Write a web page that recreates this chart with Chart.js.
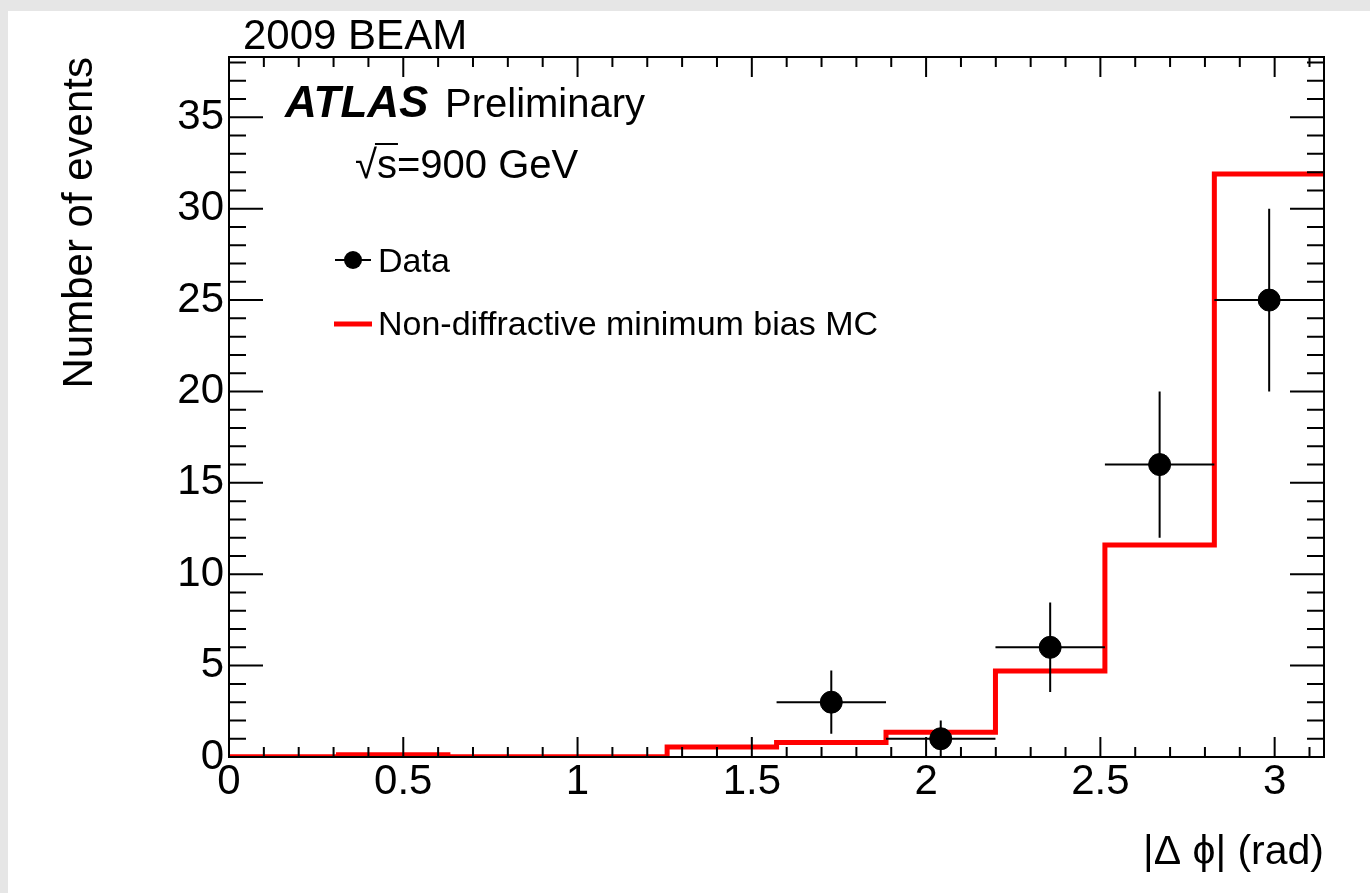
<!DOCTYPE html>
<html>
<head>
<meta charset="utf-8">
<script src="https://cdn.jsdelivr.net/npm/chart.js@4.4.1/dist/chart.umd.min.js"></script>
<style>
  html, body { margin: 0; padding: 0; background: #e6e6e6; overflow: hidden; }
  #panel { position: absolute; left: 8px; top: 11px; width: 1362px; height: 882px; background: #ffffff; }
  canvas { display: block; }
</style>
</head>
<body>
<div id="panel"><canvas id="plot" width="1362" height="882"></canvas></div>
<script>
// |delta phi| histogram, 10 bins from 0 to pi
var binEdges = [0, 0.314, 0.628, 0.942, 1.257, 1.571, 1.885, 2.199, 2.513, 2.827, 3.1416];
var mcCounts = [0.02, 0.12, 0.02, 0.02, 0.55, 0.8, 1.35, 4.7, 11.6, 31.9];
var dataCounts = [null, null, null, null, null, 3, 1, 6, 16, 25];
var dataErrors = [null, null, null, null, null, 1.73, 1, 2.45, 4, 5];

var xTicks = [0, 0.5, 1, 1.5, 2, 2.5, 3];
var yTicks = [0, 5, 10, 15, 20, 25, 30, 35];
var xMax = 3.1416;
var yMax = 38.3;

var legendLabels = ["Data", "Non-diffractive minimum bias MC"];
var FONT = "'Liberation Sans', Arial, Helvetica, sans-serif";

// step line: left edge of every bin + closing point at the last edge
var mcPoints = [];
for (var i = 0; i < mcCounts.length; i++) {
  mcPoints.push({x: binEdges[i], y: mcCounts[i]});
}
mcPoints.push({x: binEdges[binEdges.length - 1], y: mcCounts[mcCounts.length - 1]});

var dataPoints = [];
for (var i = 0; i < dataCounts.length; i++) {
  if (dataCounts[i] === null) continue;
  dataPoints.push({x: (binEdges[i] + binEdges[i + 1]) / 2, y: dataCounts[i]});
}

var frameAndDecor = {
  id: "frameAndDecor",
  afterDatasetsDraw: function (chart) {
    var ctx = chart.ctx;
    var a = chart.chartArea;
    var sx = chart.scales.x, sy = chart.scales.y;
    ctx.save();

    // error bars
    ctx.strokeStyle = "#000";
    ctx.lineWidth = 2;
    ctx.beginPath();
    for (var i = 0; i < dataCounts.length; i++) {
      if (dataCounts[i] === null) continue;
      var c = dataCounts[i], e = dataErrors[i];
      var xc = sx.getPixelForValue((binEdges[i] + binEdges[i + 1]) / 2);
      var yc = sy.getPixelForValue(c);
      ctx.moveTo(sx.getPixelForValue(binEdges[i]), yc);
      ctx.lineTo(sx.getPixelForValue(binEdges[i + 1]), yc);
      ctx.moveTo(xc, sy.getPixelForValue(Math.max(c - e, 0)));
      ctx.lineTo(xc, sy.getPixelForValue(c + e));
    }
    ctx.stroke();

    // frame
    ctx.lineWidth = 2;
    ctx.strokeRect(a.left, a.top, a.right - a.left, a.bottom - a.top);

    // ticks, inside the frame on all four sides
    ctx.beginPath();
    for (var k = 0; k <= 31; k++) {
      var v = k / 10;
      if (v > xMax) break;
      var px = sx.getPixelForValue(v);
      var len = (k % 5 === 0) ? 20 : 10;
      ctx.moveTo(px, a.bottom); ctx.lineTo(px, a.bottom - len);
      ctx.moveTo(px, a.top); ctx.lineTo(px, a.top + len);
    }
    for (var k = 0; k <= Math.floor(yMax); k++) {
      var py = sy.getPixelForValue(k);
      var len = (k % 5 === 0) ? 34 : 17;
      ctx.moveTo(a.left, py); ctx.lineTo(a.left + len, py);
      ctx.moveTo(a.right, py); ctx.lineTo(a.right - len, py);
    }
    ctx.stroke();

    // texts
    ctx.fillStyle = "#000";
    ctx.textBaseline = "alphabetic";
    ctx.textAlign = "left";
    ctx.font = "42px " + FONT;
    ctx.fillText("2009 BEAM", 235, 38);

    ctx.font = "italic bold 44px " + FONT;
    ctx.fillText("ATLAS", 277, 106);
    ctx.font = "40px " + FONT;
    ctx.fillText("Preliminary", 437, 106);

    var rootW = ctx.measureText("\u221A").width;
    var sW = ctx.measureText("s").width;
    ctx.fillText("\u221As=900 GeV", 347, 167);
    ctx.lineWidth = 2;
    ctx.beginPath();
    ctx.moveTo(347 + rootW - 2, 133);
    ctx.lineTo(347 + rootW + sW + 1, 133);
    ctx.stroke();

    // legend
    ctx.font = "34px " + FONT;
    ctx.beginPath();
    ctx.moveTo(327, 249); ctx.lineTo(363, 249);
    ctx.stroke();
    ctx.beginPath();
    ctx.arc(345, 249, 9, 0, Math.PI * 2);
    ctx.fill();
    ctx.fillText(legendLabels[0], 370, 261);

    ctx.strokeStyle = "#ff0000";
    ctx.lineWidth = 5;
    ctx.beginPath();
    ctx.moveTo(326, 313); ctx.lineTo(364, 313);
    ctx.stroke();
    ctx.fillText(legendLabels[1], 370, 324);

    ctx.restore();
  }
};

new Chart(document.getElementById("plot"), {
  type: "line",
  data: {
    datasets: [
      {
        label: legendLabels[1],
        data: mcPoints,
        borderColor: "#ff0000",
        borderWidth: 5,
        stepped: true,
        pointRadius: 0,
        fill: false,
        order: 2
      },
      {
        label: legendLabels[0],
        type: "scatter",
        data: dataPoints,
        backgroundColor: "#000",
        borderColor: "#000",
        pointRadius: 11,
        order: 1
      }
    ]
  },
  options: {
    responsive: false,
    animation: false,
    layout: { padding: { top: 46, right: 46, left: 0, bottom: 0 } },
    plugins: { legend: { display: false }, tooltip: { enabled: false } },
    scales: {
      x: {
        type: "linear",
        min: 0,
        max: xMax,
        grid: { display: false, drawTicks: false },
        border: { display: false },
        afterBuildTicks: function (axis) { axis.ticks = xTicks.map(function (v) { return {value: v}; }); },
        afterFit: function (axis) { axis.height = 136; },
        ticks: { color: "#000", font: { family: FONT, size: 42 }, padding: 0, maxRotation: 0, autoSkip: false,
                 callback: function (v) { return String(v); } },
        title: { display: true, text: "|\u0394 \u03D5| (rad)", align: "end", color: "#000",
                 font: { family: FONT, size: 41 }, padding: { bottom: 16 } }
      },
      y: {
        min: 0,
        max: yMax,
        grid: { display: false, drawTicks: false },
        border: { display: false },
        afterBuildTicks: function (axis) { axis.ticks = yTicks.map(function (v) { return {value: v}; }); },
        afterFit: function (axis) { axis.width = 221; },
        ticks: { color: "#000", font: { family: FONT, size: 42 }, padding: 5, autoSkip: false,
                 callback: function (v) { return String(v); } },
        title: { display: true, text: "Number of events", align: "end", color: "#000",
                 font: { family: FONT, size: 42 }, padding: { top: 47 } }
      }
    }
  },
  plugins: [frameAndDecor]
});
</script>
</body>
</html>
